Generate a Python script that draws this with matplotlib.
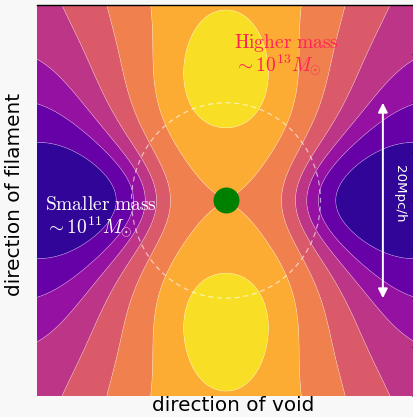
import numpy as np
import matplotlib
matplotlib.use("Agg")
import matplotlib.pyplot as plt
from matplotlib.patches import Circle

plt.rcParams["mathtext.fontset"] = "cm"

# Box half-size in Mpc/h; the field is defined on u, v in [-1, 1]
half_box = 20.0

# Smooth density model: filament ridge + two nodes - two voids
base_level = 3.82
void_amp, void_su, void_sv = 3.4, 0.70, 0.47
node_amp, node_pos, node_su, node_sv = 1.55, 0.675, 0.199, 0.233
ridge_amp, ridge_drop, ridge_vc, ridge_k = 4.584, 1.85, 0.657, 3.2
ridge_width = [0.45, 0.74]
ridge_power = [4.0, 3.1]
ridge_tau = 0.25

# contour levels (band edges) and colour samples of the bands
band_edges = [1, 2, 3, 4, 5, 6, 7]
n_bands = len(band_edges) + 1

circle_radius = 10.0
arrow_x = 16.6
arrow_span = [-10.0, 10.0]
ytick_values = np.arange(-20, 21, 5)

n = 500
u = np.linspace(-1, 1, n)
U, V = np.meshgrid(u, u)

w = 1 - np.exp(-V**2 / (2 * ridge_tau**2))
A = ridge_amp - ridge_drop * (1 - np.exp(-(np.abs(V) / ridge_vc) ** ridge_k))
s = ridge_width[0] + (ridge_width[1] - ridge_width[0]) * w
p = ridge_power[0] + (ridge_power[1] - ridge_power[0]) * w
ridge = A * np.exp(-(np.abs(U) / s) ** p)
nodes = node_amp * np.exp(-U**2 / (2 * node_su**2)) * (
    np.exp(-(V - node_pos)**2 / (2 * node_sv**2)) + np.exp(-(V + node_pos)**2 / (2 * node_sv**2)))
voids = void_amp * np.exp(-V**2 / (2 * void_sv**2)) * (
    np.exp(-(U - 1)**2 / (2 * void_su**2)) + np.exp(-(U + 1)**2 / (2 * void_su**2)))
field = base_level + ridge + nodes - voids

X = U * half_box
Y = V * half_box

fig = plt.figure(figsize=(4.14, 4.17), dpi=100, facecolor="#f8f8f8")
ax = fig.add_axes([37 / 414, 21 / 417, 378 / 414, 391 / 417])

levels = [field.min() - 0.1] + band_edges + [field.max() + 0.1]
cmap = plt.get_cmap("plasma")
colors = [cmap((i + 0.5) / n_bands) for i in range(n_bands)]
ax.contourf(X, Y, field, levels=levels, colors=colors, antialiased=True)
ax.contour(X, Y, field, levels=band_edges, colors="white", linewidths=0.5, alpha=0.35)

ax.add_patch(Circle((0, 0), circle_radius, fill=False, edgecolor="white",
                    linestyle=(0, (4, 3)), linewidth=0.9, alpha=0.6))
ax.scatter([0], [0], s=350, color="green", zorder=5, linewidths=0)

ax.annotate("", xy=(arrow_x, arrow_span[1]), xytext=(arrow_x, arrow_span[0]),
            arrowprops=dict(arrowstyle="<|-|>", color="white", lw=1.4,
                            mutation_scale=14, shrinkA=0, shrinkB=0))
ax.text(18.4, 0.7, "20Mpc/h", rotation=-90, color="white", fontsize=9.6,
        ha="center", va="center")

ax.text(0.85, 15.6, r"$\mathrm{Higher\ mass}$", color="#ff2255", fontsize=14,
        ha="left", va="baseline")
ax.text(0.85, 13.28, r"$\sim 10^{13}M_{\odot}$", color="#ff2255", fontsize=14,
        ha="left", va="baseline")
ax.text(-19.15, -0.97, r"$\mathrm{Smaller\ mass}$", color="white", fontsize=14,
        ha="left", va="baseline")
ax.text(-19.15, -3.32, r"$\sim 10^{11}M_{\odot}$", color="white", fontsize=14,
        ha="left", va="baseline")

ax.set_xlim(-half_box, half_box)
ax.set_ylim(-half_box, half_box)
for side in ["left", "bottom", "right"]:
    ax.spines[side].set_visible(False)
ax.spines["top"].set_linewidth(1.0)
ax.set_xticks([])
ax.yaxis.tick_right()
ax.set_yticks(ytick_values)
ax.set_yticklabels([])
ax.tick_params(axis="y", direction="in", length=2.5, width=0.8, right=True, left=False)

fig.text(233.5 / 414, 1 - 405.5 / 417, "direction of void", fontsize=14.4,
         ha="center", va="center")
fig.text(15 / 414, 1 - 194 / 417, "direction of filament", fontsize=14.4,
         ha="center", va="center", rotation=90)

fig.savefig("out.png", dpi=100, facecolor=fig.get_facecolor())
